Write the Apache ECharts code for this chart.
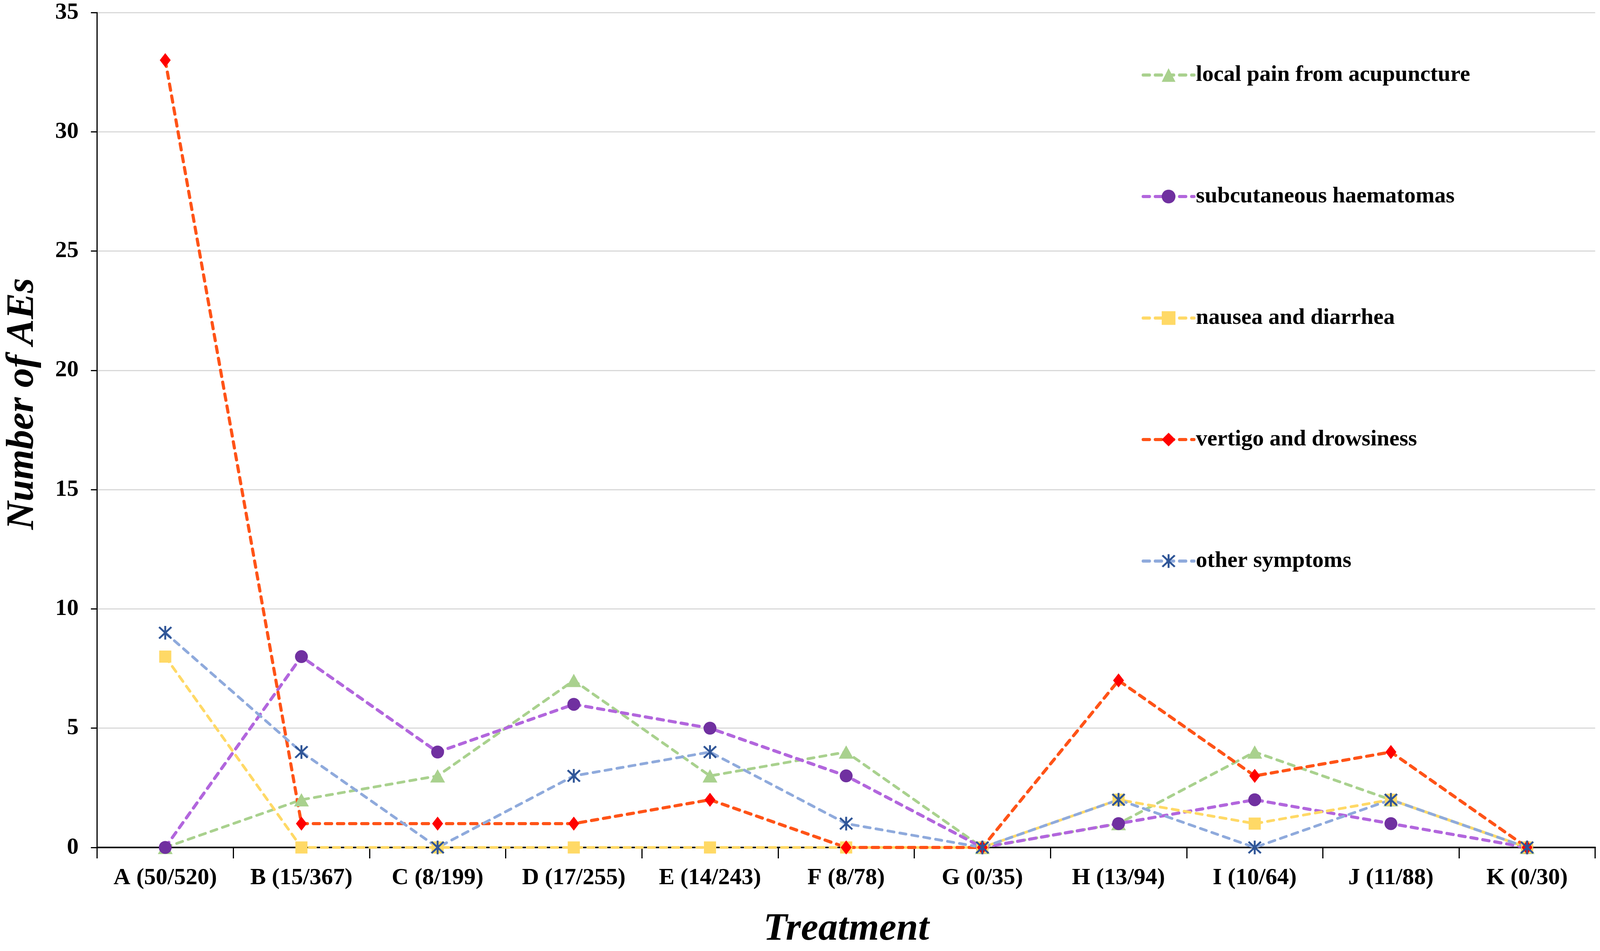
<!DOCTYPE html>
<html>
<head>
<meta charset="utf-8">
<script src="https://cdn.jsdelivr.net/npm/echarts@6/dist/echarts.min.js"></script>
<style>
  html, body { margin: 0; padding: 0; background: #fff; overflow: hidden; }
  #main { width: 100vw; height: 100vh; }
</style>
</head>
<body>
<div id="main"></div>
<script>
// categories and counts
var treatments = ['A (50/520)', 'B (15/367)', 'C (8/199)', 'D (17/255)', 'E (14/243)', 'F (8/78)',
    'G (0/35)', 'H (13/94)', 'I (10/64)', 'J (11/88)', 'K (0/30)'];
var seriesNames = ['local pain from acupuncture', 'subcutaneous haematomas', 'nausea and diarrhea',
    'vertigo and drowsiness', 'other symptoms'];
var localPain = [0, 2, 3, 7, 3, 4, 0, 1, 4, 2, 0];
var haematomas = [0, 8, 4, 6, 5, 3, 0, 1, 2, 1, 0];
var nausea = [8, 0, 0, 0, 0, 0, 0, 2, 1, 2, 0];
var vertigo = [33, 1, 1, 1, 2, 0, 0, 7, 3, 4, 0];
var otherSymptoms = [9, 4, 0, 3, 4, 1, 0, 2, 0, 2, 0];

var FONT = 'Liberation Serif';
// asterisk marker: vertical bar plus an X
var asterisk = 'path://M4.35 0 L5.65 0 L5.65 10 L4.35 10 Z M1.3 0.35 L9.65 8.7 L8.7 9.65 L0.35 1.3 Z M8.7 0.35 L9.65 1.3 L1.3 9.65 L0.35 8.7 Z';

var myChart = echarts.init(document.getElementById('main'));
// layout was measured on a 4317 px wide figure; scale horizontal spots to the real width
var sx = myChart.getWidth() / 4317;

function makeSeries(name, data, lineColor, markColor, symbol, size, width) {
    return {
        name: name,
        type: 'line',
        data: data,
        symbol: symbol,
        symbolSize: size,
        showAllSymbol: true,
        clip: false,
        lineStyle: { color: lineColor, width: width, type: [16, 15], cap: 'round' },
        itemStyle: { color: markColor }
    };
}

option = {
    backgroundColor: '#fff',
    animation: false,
    textStyle: { fontFamily: FONT },
    legend: {
        orient: 'vertical',
        left: 3075 * sx,
        top: 157,
        itemWidth: 137 * sx,
        itemHeight: 44,
        itemGap: 251,
        lineStyle: { width: 8 },
        textStyle: { fontFamily: FONT, fontWeight: 'bold', fontSize: 58, lineHeight: 60, color: '#000' },
        data: seriesNames
    },
    grid: {
        left: 256 * sx,
        right: 13 * sx,
        top: 32,
        bottom: 246,
        containLabel: false
    },
    xAxis: {
        type: 'category',
        data: treatments,
        boundaryGap: true,
        name: 'Treatment',
        nameLocation: 'middle',
        nameGap: 160,
        nameTextStyle: { fontFamily: FONT, fontWeight: 'bold', fontStyle: 'italic', fontSize: 100, color: '#000' },
        axisLine: { lineStyle: { color: '#000', width: 4 } },
        axisTick: { show: true, interval: 0, length: 28, lineStyle: { color: '#000', width: 3 } },
        axisLabel: { interval: 0, margin: 48, fontFamily: FONT, fontWeight: 'bold', fontSize: 60, color: '#000' },
        splitLine: { show: false }
    },
    yAxis: {
        type: 'value',
        min: 0,
        max: 35,
        interval: 5,
        name: 'Number of AEs',
        nameLocation: 'middle',
        nameGap: 256 * sx - 55 * sx - 50,
        nameTextStyle: { fontFamily: FONT, fontWeight: 'bold', fontStyle: 'italic', fontSize: 100, color: '#000',
            padding: [0, 0, 0, 134] },
        axisLine: { show: true, lineStyle: { color: '#000', width: 3 } },
        axisTick: { show: true, length: 16, lineStyle: { color: '#000', width: 3 } },
        axisLabel: { margin: 50 * sx, fontFamily: FONT, fontWeight: 'bold', fontSize: 60, color: '#000' },
        splitLine: { show: true, lineStyle: { color: '#d9d9d9', width: 3 } }
    },
    series: [
        makeSeries(seriesNames[0], localPain, '#a9d18e', '#a9d18e', 'triangle', [38, 34], 7),
        makeSeries(seriesNames[1], haematomas, '#b266dd', '#7030a0', 'circle', 33, 8),
        makeSeries(seriesNames[2], nausea, '#ffd966', '#ffd966', 'rect', 31, 7),
        makeSeries(seriesNames[3], vertigo, '#ff5317', '#ff0000', 'diamond', [28, 36], 8),
        makeSeries(seriesNames[4], otherSymptoms, '#8faadc', '#2f5597', asterisk, [35, 35], 7)
    ]
};
myChart.setOption(option);
</script>
</body>
</html>
